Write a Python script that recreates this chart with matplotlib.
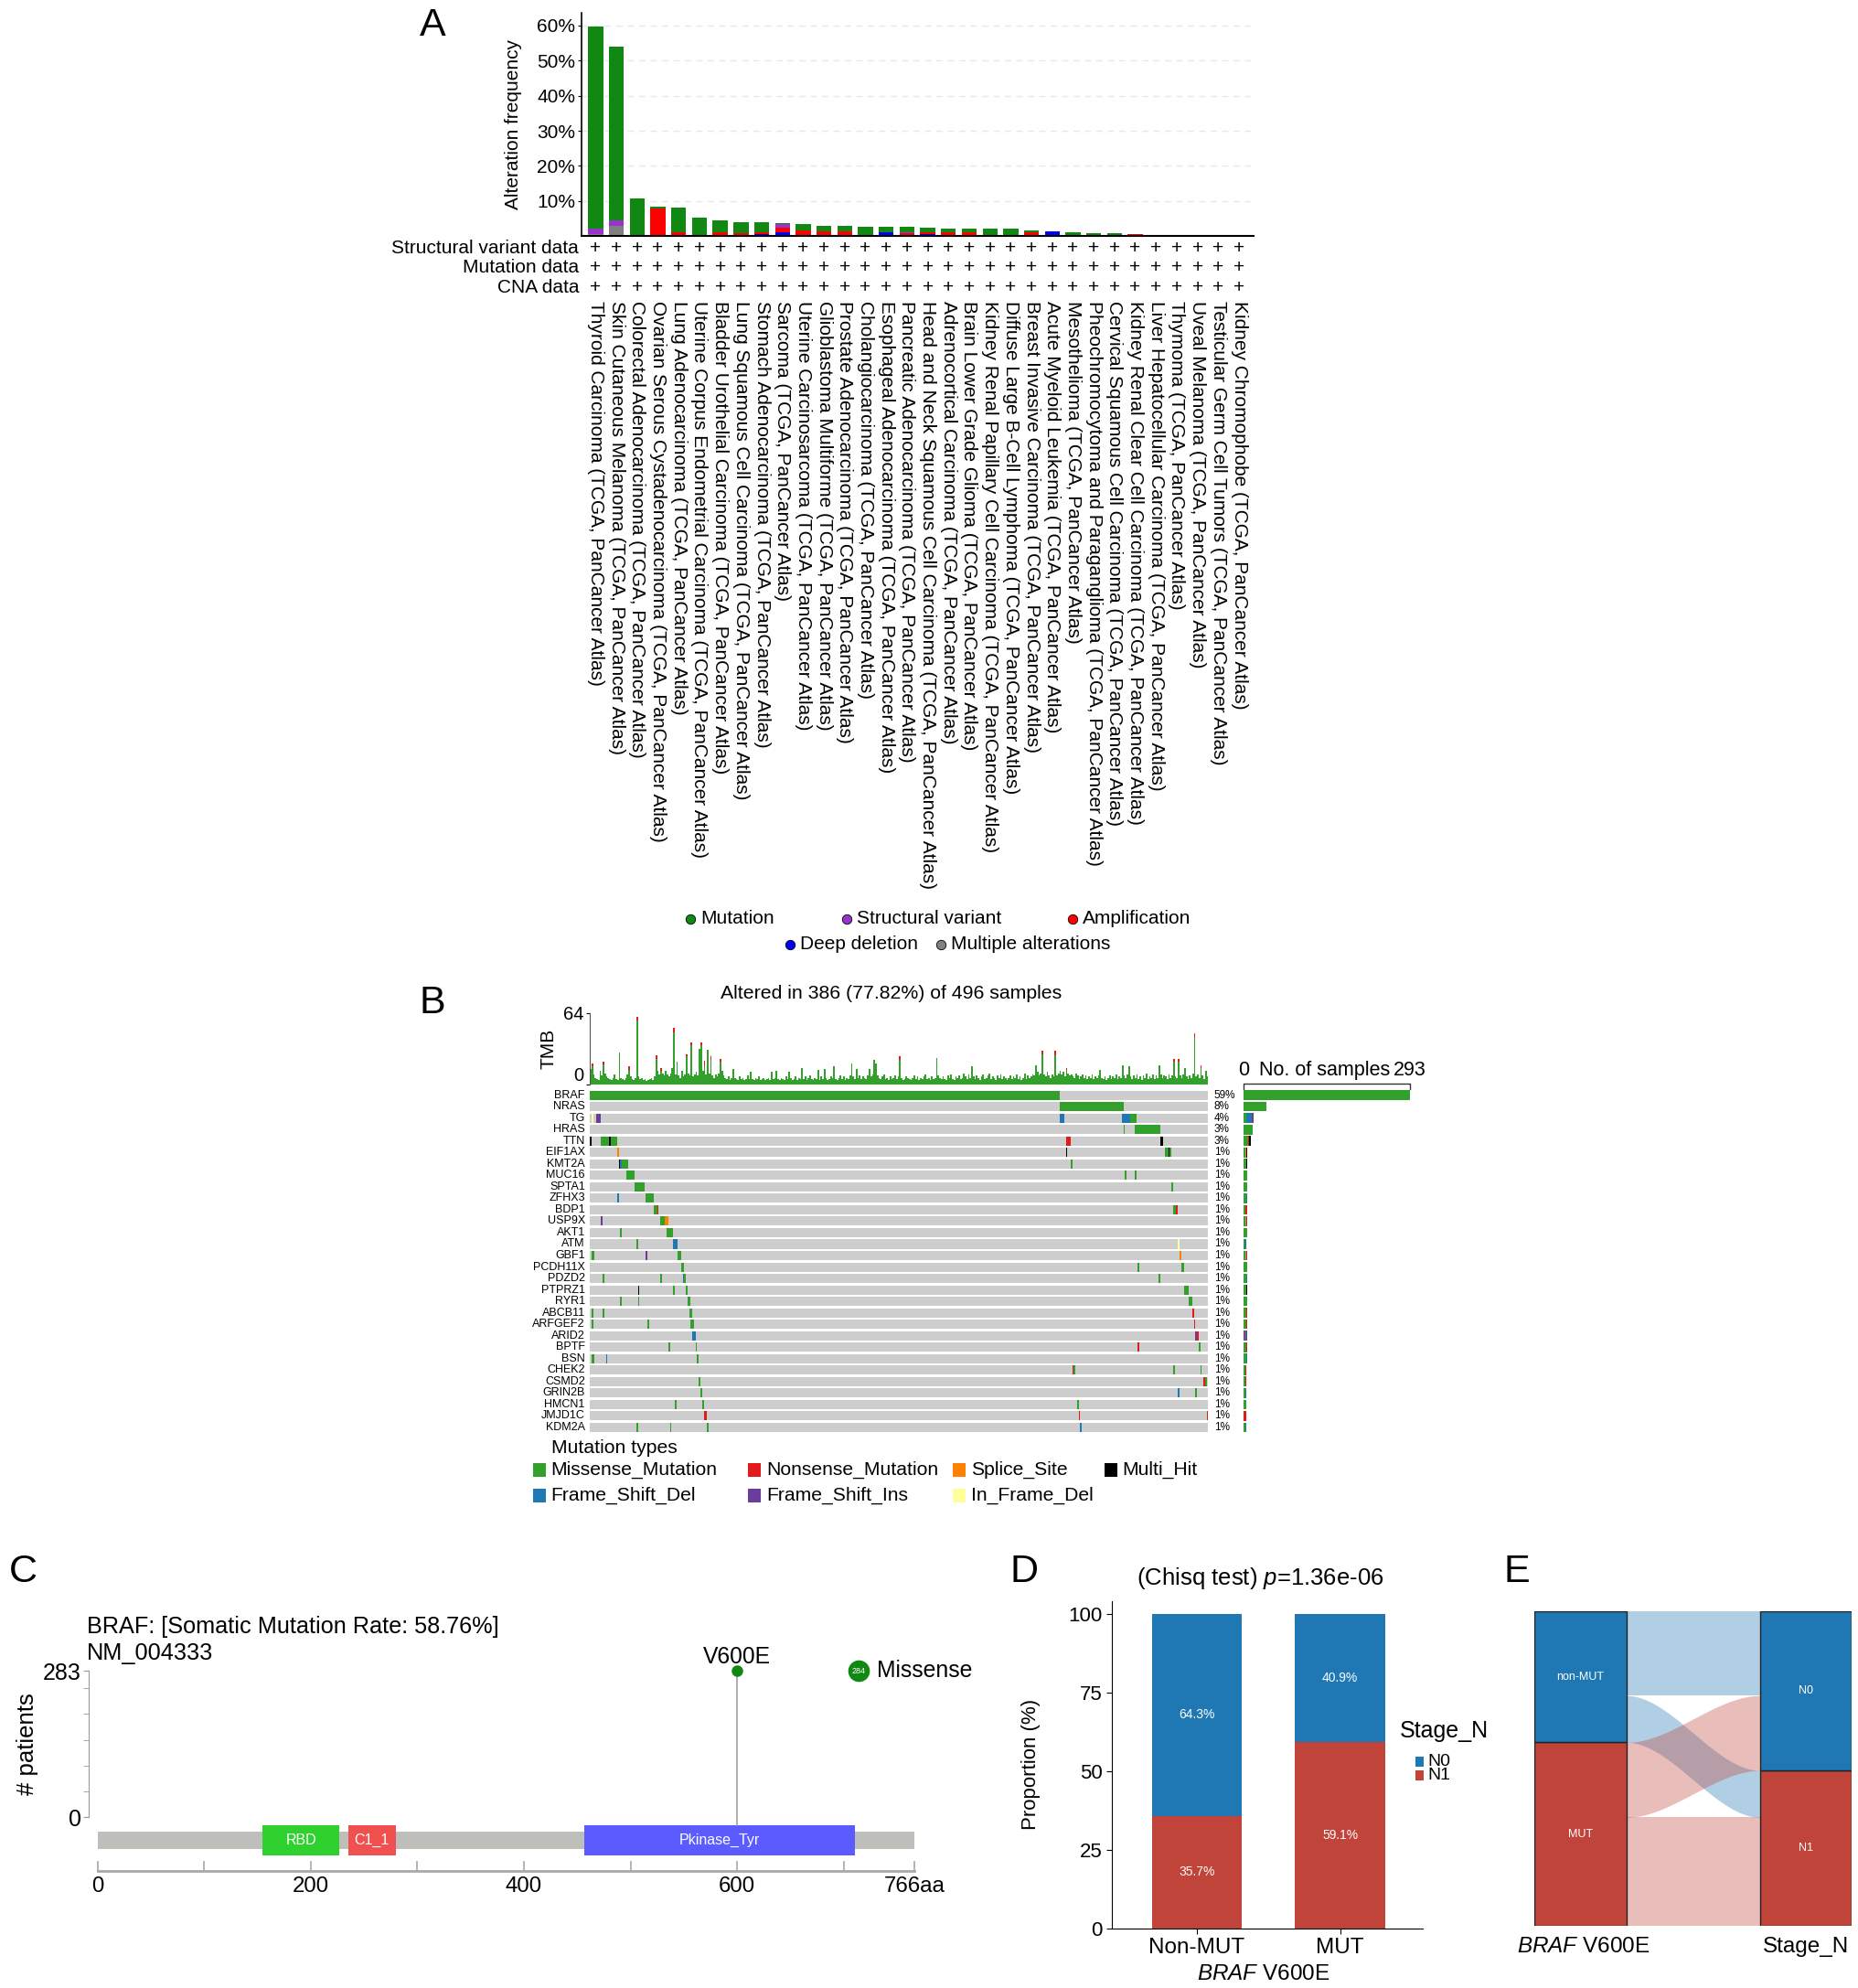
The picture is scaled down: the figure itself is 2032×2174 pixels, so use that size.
import numpy as np
import matplotlib
matplotlib.use('Agg')
import matplotlib.pyplot as plt
from matplotlib.patches import Rectangle
from matplotlib.lines import Line2D

plt.rcParams['font.family'] = ['Liberation Sans', 'DejaVu Sans']
plt.rcParams['mathtext.fontset'] = 'custom'
plt.rcParams['mathtext.rm'] = 'Liberation Sans'
plt.rcParams['mathtext.it'] = 'Liberation Sans:italic'

# ---------------- panel A: alteration frequency per cancer type (%)
cancer_types = ['Thyroid Carcinoma', 'Skin Cutaneous Melanoma', 'Colorectal Adenocarcinoma',
                'Ovarian Serous Cystadenocarcinoma', 'Lung Adenocarcinoma',
                'Uterine Corpus Endometrial Carcinoma', 'Bladder Urothelial Carcinoma',
                'Lung Squamous Cell Carcinoma', 'Stomach Adenocarcinoma', 'Sarcoma',
                'Uterine Carcinosarcoma', 'Glioblastoma Multiforme', 'Prostate Adenocarcinoma',
                'Cholangiocarcinoma', 'Esophageal Adenocarcinoma', 'Pancreatic Adenocarcinoma',
                'Head and Neck Squamous Cell Carcinoma', 'Adrenocortical Carcinoma',
                'Brain Lower Grade Glioma', 'Kidney Renal Papillary Cell Carcinoma',
                'Diffuse Large B-Cell Lymphoma', 'Breast Invasive Carcinoma',
                'Acute Myeloid Leukemia', 'Mesothelioma', 'Pheochromocytoma and Paraganglioma',
                'Cervical Squamous Cell Carcinoma', 'Kidney Renal Clear Cell Carcinoma',
                'Liver Hepatocellular Carcinoma', 'Thymoma', 'Uveal Melanoma',
                'Testicular Germ Cell Tumors', 'Kidney Chromophobe']
mutation = [57.6, 49.3, 10.4, 0.4, 7.2, 4.8, 3.3, 3.2, 3.0, 0.3, 1.7, 1.5, 1.7, 2.6, 1.6, 1.5,
            1.3, 0.9, 1.0, 1.7, 2.1, 0.7, 0, 1.0, 0.6, 0.9, 0, 0, 0, 0, 0, 0]
struct_var = [1.6, 1.6, 0, 0, 0, 0, 0, 0, 0, 1.0, 0, 0, 0, 0, 0, 0.3,
              0, 0, 0, 0, 0, 0, 0, 0, 0, 0, 0, 0, 0, 0, 0, 0]
amplification = [0, 0, 0.3, 7.9, 1.0, 0.4, 1.2, 0.4, 0.5, 1.4, 1.7, 1.5, 1.3, 0, 0, 0.5,
                 0.7, 1.2, 1.1, 0.4, 0, 1.0, 0, 0, 0.3, 0, 0.6, 0.3, 0, 0, 0, 0]
deep_deletion = [0.3, 0, 0, 0, 0, 0, 0, 0.4, 0.5, 1.1, 0, 0, 0, 0, 1.0, 0.3,
                 0.5, 0, 0, 0, 0, 0, 1.4, 0, 0, 0, 0, 0, 0, 0, 0, 0]
multiple_alt = [0.2, 3.0, 0, 0, 0, 0, 0, 0, 0, 0, 0, 0, 0, 0, 0, 0,
                0, 0, 0, 0, 0, 0, 0, 0, 0, 0, 0, 0, 0, 0, 0, 0]
profile_rows = ['Structural variant data', 'Mutation data', 'CNA data']

# ---------------- panel B: oncoplot
n_samples = 386
tmb = [14, 19, 9, 6, 5, 4, 12, 8, 20, 10, 7, 6, 5, 4, 6, 9, 5, 4, 29, 6,
       5, 4, 6, 9, 16, 7, 5, 4, 6, 61, 7, 5, 6, 4, 5, 3, 4, 5, 6, 4,
       7, 26, 12, 9, 15, 10, 8, 12, 9, 7, 10, 15, 51, 9, 20, 8, 6, 12, 7, 9,
       27, 10, 8, 38, 7, 9, 11, 8, 32, 38, 12, 21, 9, 31, 10, 25, 8, 6, 9, 7,
       10, 23, 12, 8, 6, 5, 7, 4, 6, 14, 6, 5, 4, 7, 5, 6, 4, 5, 8, 5,
       11, 5, 4, 6, 5, 7, 4, 5, 6, 4, 5, 6, 4, 11, 5, 6, 12, 5, 4, 6,
       5, 4, 7, 5, 11, 6, 4, 5, 7, 4, 6, 5, 15, 5, 7, 4, 6, 8, 5, 4,
       6, 5, 13, 4, 7, 5, 14, 6, 4, 5, 7, 6, 16, 5, 4, 6, 8, 5, 7, 4,
       6, 5, 8, 19, 7, 5, 14, 6, 8, 5, 7, 6, 5, 8, 14, 7, 9, 22, 19, 8,
       6, 5, 7, 9, 5, 6, 4, 7, 5, 6, 8, 5, 7, 25, 6, 4, 5, 7, 6, 5,
       4, 6, 8, 5, 7, 4, 6, 5, 7, 9, 5, 6, 4, 7, 5, 6, 24, 8, 6, 5,
       7, 5, 4, 8, 6, 9, 5, 4, 7, 6, 8, 5, 6, 10, 7, 5, 9, 6, 16, 7,
       5, 8, 6, 4, 7, 9, 5, 6, 8, 10, 5, 7, 6, 4, 8, 6, 9, 5, 7, 6,
       4, 6, 8, 5, 7, 6, 9, 5, 7, 4, 6, 10, 5, 8, 6, 7, 9, 8, 17, 11,
       8, 10, 30, 9, 7, 11, 8, 6, 9, 7, 30, 8, 10, 12, 9, 11, 7, 15, 10, 8,
       9, 7, 6, 10, 8, 5, 7, 9, 6, 8, 5, 7, 6, 9, 5, 7, 6, 8, 13, 6,
       5, 7, 4, 6, 8, 5, 7, 6, 9, 5, 7, 6, 17, 8, 6, 9, 16, 7, 5, 8,
       6, 9, 5, 7, 4, 8, 6, 10, 5, 7, 6, 9, 5, 8, 6, 17, 9, 6, 8, 7,
       5, 9, 6, 8, 23, 7, 6, 23, 8, 6, 9, 15, 7, 5, 8, 6, 10, 46, 7, 9,
       6, 17, 8, 5, 12, 7]
tmb_nonsense = {1: 3, 8: 2, 24: 3, 29: 4, 41: 3, 44: 3, 52: 4, 60: 2, 63: 3, 69: 3, 71: 5,
                75: 3, 81: 3, 193: 3, 282: 3, 290: 4, 297: 2, 364: 3, 367: 3, 377: 4, 381: 2}

onco_genes = ['BRAF', 'NRAS', 'TG', 'HRAS', 'TTN', 'EIF1AX', 'KMT2A', 'MUC16', 'SPTA1', 'ZFHX3',
              'BDP1', 'USP9X', 'AKT1', 'ATM', 'GBF1', 'PCDH11X', 'PDZD2', 'PTPRZ1', 'RYR1',
              'ABCB11', 'ARFGEF2', 'ARID2', 'BPTF', 'BSN', 'CHEK2', 'CSMD2', 'GRIN2B', 'HMCN1',
              'JMJD1C', 'KDM2A']
onco_pct = ['59%', '8%', '4%', '3%', '3%'] + ['1%'] * 25
gene_counts = [293, 40, 20, 16, 14, 7, 7, 7, 7, 6, 6, 6, 6, 6, 6, 6, 6, 6, 6, 6,
               6, 6, 6, 6, 5, 5, 5, 5, 5, 5]
# (first sample column, number of columns, variant class)
onco_hits = {
    'BRAF': [(0, 293, 'M')],
    'NRAS': [(293, 40, 'M')],
    'TG': [(1, 1, 'F'), (4, 3, 'I'), (293, 3, 'D'), (332, 5, 'D'), (337, 4, 'M')],
    'HRAS': [(333, 1, 'M'), (340, 16, 'M')],
    'TTN': [(0, 1, 'H'), (7, 10, 'M'), (12, 1, 'H'), (297, 3, 'N'), (356, 2, 'H')],
    'EIF1AX': [(17, 1, 'S'), (297, 1, 'H'), (359, 4, 'M'), (361, 1, 'H')],
    'KMT2A': [(18, 1, 'H'), (19, 1, 'D'), (20, 4, 'M'), (300, 1, 'M')],
    'MUC16': [(23, 5, 'M'), (334, 1, 'M'), (340, 1, 'M')],
    'SPTA1': [(28, 6, 'M'), (363, 1, 'M')],
    'ZFHX3': [(17, 1, 'D'), (35, 5, 'M')],
    'BDP1': [(40, 2, 'M'), (42, 1, 'N'), (364, 2, 'M'), (366, 1, 'N')],
    'USP9X': [(7, 1, 'I'), (44, 3, 'M'), (47, 2, 'S')],
    'AKT1': [(19, 1, 'M'), (48, 4, 'M')],
    'ATM': [(29, 1, 'M'), (52, 3, 'D'), (367, 1, 'F')],
    'GBF1': [(1, 2, 'M'), (35, 1, 'I'), (55, 2, 'M'), (368, 1, 'S')],
    'PCDH11X': [(57, 2, 'M'), (342, 1, 'M'), (369, 2, 'M')],
    'PDZD2': [(8, 1, 'M'), (44, 1, 'M'), (58, 1, 'D'), (59, 1, 'M'), (355, 1, 'M')],
    'PTPRZ1': [(30, 1, 'H'), (52, 1, 'M'), (60, 1, 'M'), (371, 3, 'M')],
    'RYR1': [(19, 1, 'M'), (30, 1, 'M'), (61, 2, 'M'), (374, 2, 'M')],
    'ABCB11': [(1, 1, 'M'), (8, 1, 'M'), (62, 2, 'M'), (376, 1, 'N')],
    'ARFGEF2': [(1, 1, 'M'), (36, 1, 'M'), (63, 2, 'M'), (377, 1, 'N')],
    'ARID2': [(64, 2, 'D'), (378, 1, 'I'), (379, 1, 'N')],
    'BPTF': [(49, 1, 'M'), (66, 1, 'M'), (342, 1, 'N'), (380, 1, 'M')],
    'BSN': [(1, 2, 'M'), (10, 1, 'D'), (67, 1, 'M')],
    'CHEK2': [(301, 1, 'N'), (302, 1, 'M'), (364, 1, 'M'), (381, 1, 'M')],
    'CSMD2': [(68, 1, 'M'), (383, 1, 'N'), (384, 1, 'M')],
    'GRIN2B': [(69, 1, 'M'), (367, 1, 'D'), (378, 1, 'M')],
    'HMCN1': [(53, 1, 'M'), (70, 1, 'M'), (304, 1, 'M')],
    'JMJD1C': [(71, 2, 'N'), (305, 1, 'N'), (385, 1, 'N')],
    'KDM2A': [(29, 1, 'M'), (50, 1, 'M'), (73, 1, 'M'), (306, 1, 'D')],
}
vc_codes = ['M', 'N', 'S', 'H', 'D', 'I', 'F']
vc_names = ['Missense_Mutation', 'Nonsense_Mutation', 'Splice_Site', 'Multi_Hit',
            'Frame_Shift_Del', 'Frame_Shift_Ins', 'In_Frame_Del']
vc_colors = ['#33A02C', '#E31A1C', '#FF7F00', '#000000', '#1F78B4', '#6A3D9A', '#FFFF99']

# ---------------- panel C: lollipop
protein_len = 766
domain_names = ['RBD', 'C1_1', 'Pkinase_Tyr']
domain_start = [155, 235, 457]
domain_end = [227, 280, 710]
domain_colors = ['#2FD12F', '#F05050', '#5B5BFF']
hotspot_pos = 600
hotspot_label = 'V600E'
hotspot_count = 284

# ---------------- panels D/E: BRAF V600E vs Stage_N (patients)
braf_groups = ['Non-MUT', 'MUT']
stage_levels = ['N0', 'N1']
stage_n0 = [126, 112]
stage_n1 = [70, 162]

BLUE = '#1F78B4'
RED = '#C1443A'

fig = plt.figure(figsize=(20.32, 21.74), dpi=100)

# positions are laid out on a 1460 x 1562 page grid
GW, GH = 1460.0, 1562.0


def box(x0, y0, x1, y1):
    return [x0 / GW, 1 - y1 / GH, (x1 - x0) / GW, (y1 - y0) / GH]


def put(x, y, s, **kw):
    return fig.text(x / GW, 1 - y / GH, s, **kw)


def square(x, y, w, h, color):
    fig.add_artist(Rectangle((x / GW, 1 - (y + h / 2) / GH), w / GW, h / GH,
                             transform=fig.transFigure, color=color, lw=0))


def dot(x, y, color):
    fig.add_artist(Line2D([x / GW], [1 - y / GH], marker='o', ms=7.5, mfc=color, mec='black',
                          mew=0.6, lw=0, transform=fig.transFigure))


# ================= A
axA = fig.add_axes(box(457, 10, 985, 185.6))
xa = np.arange(len(cancer_types))
base = np.zeros(len(xa))
for vals, col in [(deep_deletion, '#0000FF'), (multiple_alt, '#808080'),
                  (amplification, '#FF0000'), (struct_var, '#9933CC'), (mutation, '#118811')]:
    axA.bar(xa, vals, 0.72, bottom=base, color=col, lw=0)
    base = base + np.array(vals)
axA.set_xlim(-0.68, len(xa) - 0.3)
axA.set_ylim(0, 63.6)
axA.set_yticks([10, 20, 30, 40, 50, 60])
axA.set_yticklabels(['%d%%' % v for v in [10, 20, 30, 40, 50, 60]], fontsize=15)
axA.yaxis.grid(True, ls=(0, (5, 4)), color='#e8e8e8', lw=1)
axA.set_axisbelow(True)
for s in ['top', 'right']:
    axA.spines[s].set_visible(False)
axA.spines['left'].set_linewidth(1.2)
axA.spines['bottom'].set_linewidth(1.5)
axA.tick_params(axis='y', length=3, pad=2)
axA.set_ylabel('Alteration frequency', fontsize=15)
axA.yaxis.set_label_coords(-0.088, 0.5)
axA.set_xticks(xa)
axA.set_xticklabels([c + ' (TCGA, PanCancer Atlas)' for c in cancer_types],
                    rotation=270, fontsize=15, va='top', ha='center')
axA.tick_params(axis='x', length=0, pad=51)
for r, name in enumerate(profile_rows):
    yf = (185.6 - (195 + 15.5 * r)) / 175.6
    axA.text(-0.004, yf, name, transform=axA.transAxes, ha='right', va='center', fontsize=15)
    for i in xa:
        axA.text(i, yf, '+', transform=axA.get_xaxis_transform(), ha='center', va='center',
                 fontsize=15)

put(340, 20, 'A', fontsize=31, ha='center', va='center')
for x, y, lab, col in [(542.5, 722, 'Mutation', '#118811'), (665, 722, 'Structural variant', '#9933CC'),
                       (842.5, 722, 'Amplification', '#FF0000'), (621, 742, 'Deep deletion', '#0000FF'),
                       (739.5, 742, 'Multiple alterations', '#808080')]:
    dot(x, y, col)
    put(x + 8, y, lab, fontsize=15, va='center', ha='left')

# ================= B
put(340, 788, 'B', fontsize=31, ha='center', va='center')
put(700, 781, 'Altered in 386 (77.82%) of 496 samples', fontsize=15.3, ha='center', va='center')

axT = fig.add_axes(box(463.5, 796, 949.5, 852))
xs = np.arange(n_samples)
red_part = np.array([tmb_nonsense.get(i, 0) for i in xs])
tmb_arr = np.array(tmb)
axT.bar(xs, tmb_arr - red_part, 1.0, color='#33A02C', lw=0)
axT.bar(xs, red_part, 1.0, bottom=tmb_arr - red_part, color='#E31A1C', lw=0)
axT.set_xlim(-0.5, n_samples - 0.5)
axT.set_ylim(0, 64)
axT.set_yticks([0, 64])
axT.tick_params(axis='y', labelsize=14.5, length=3, pad=2)
axT.get_yticklabels()[0].set_va('bottom')
axT.set_xticks([])
for s in ['top', 'right', 'bottom']:
    axT.spines[s].set_visible(False)
axT.spines['left'].set_color('#555555')
axT.set_ylabel('TMB', fontsize=15)
axT.yaxis.set_label_coords(-0.053, 0.5)

axO = fig.add_axes(box(463.5, 856, 949.5, 1126))
ng = len(onco_genes)
for gi, g in enumerate(onco_genes):
    axO.barh(gi, n_samples, left=-0.5, height=0.8, color='#CDCDCD', lw=0)
    for c0, w, t in onco_hits[g]:
        axO.barh(gi, w, left=c0 - 0.5, height=0.8, color=vc_colors[vc_codes.index(t)], lw=0)
    axO.text(-3.5, gi, g, ha='right', va='center', fontsize=9)
    axO.text(n_samples + 3, gi, onco_pct[gi], ha='left', va='center', fontsize=8.5)
axO.set_xlim(-0.5, n_samples - 0.5)
axO.set_ylim(ng - 0.5, -0.5)
axO.axis('off')

axR = fig.add_axes(box(977, 856, 1108, 1126))
for gi, g in enumerate(onco_genes):
    sizes = np.array([sum(w for _, w, t in onco_hits[g] if t == code) for code in vc_codes], float)
    seg = sizes / sizes.sum() * gene_counts[gi]
    left = 0
    for k, code in enumerate(vc_codes):
        if seg[k] > 0:
            axR.barh(gi, seg[k], left=left, height=0.85, color=vc_colors[k], lw=0)
            left += seg[k]
axR.set_xlim(0, max(gene_counts))
axR.set_ylim(ng - 0.5, -0.5)
axR.axis('off')
axR.plot([0, 0, max(gene_counts), max(gene_counts)], [-0.55, -1.0, -1.0, -0.55],
         color='#333333', lw=1, clip_on=False)
axR.text(0, -2.2, '0', ha='center', va='center', fontsize=15.5)
axR.text(143, -2.2, 'No. of samples', ha='center', va='center', fontsize=15.5)
axR.text(max(gene_counts), -2.2, str(max(gene_counts)), ha='center', va='center', fontsize=15.5)

put(433, 1138, 'Mutation types', fontsize=15.2, ha='left', va='center')
leg_x = [419, 588, 749, 868]
for k, name in enumerate(vc_names):
    col_i, row_i = k % 4, k // 4
    x = leg_x[col_i]
    y = 1155 + 20 * row_i
    square(x, y, 10, 11, vc_colors[k])
    put(x + 14, y, name, fontsize=15.2, ha='left', va='center')

# ================= C
put(18, 1235, 'C', fontsize=31, ha='center', va='center')
put(68, 1278, 'BRAF: [Somatic Mutation Rate: 58.76%]', fontsize=18.2, ha='left', va='center')
put(68, 1299, 'NM_004333', fontsize=18.2, ha='left', va='center')

axC = fig.add_axes(box(64.8, 1280, 723.4, 1500))
axC.set_xlim(-14, 772)
axC.set_ylim(-177.2, 364.2)
axC.add_patch(Rectangle((0, -60.3), protein_len, 33.2, color='#BEBEBA', lw=0))
for name, d0, d1, col in zip(domain_names, domain_start, domain_end, domain_colors):
    axC.add_patch(Rectangle((d0, -72.6), d1 - d0, 57.8, color=col, lw=0))
    axC.text((d0 + d1) / 2, -43.7, name, color='white', fontsize=11.5, ha='center', va='center')
axC.plot([hotspot_pos, hotspot_pos], [-14.8, hotspot_count], color='#A0A0A0', lw=1.2, zorder=1)
axC.plot([hotspot_pos], [hotspot_count], 'o', ms=8, color='#118811', zorder=3)
axC.text(hotspot_pos, 311, hotspot_label, fontsize=17.7, ha='center', va='center')
axC.plot([714], [283], 'o', ms=16, color='#118811', clip_on=False)
axC.text(714, 283, str(hotspot_count), color='white', fontsize=6.5, ha='center', va='center')
axC.text(731, 283, 'Missense', fontsize=17.8, ha='left', va='center')
# y axis
axC.spines['left'].set_position(('data', -8))
axC.spines['left'].set_bounds(0, 283)
axC.spines['left'].set_color('#999999')
axC.set_yticks([0, 283])
axC.set_yticks([50, 100, 150, 200, 250], minor=True)
axC.tick_params(axis='y', which='both', colors='#999999', labelcolor='black', labelsize=18,
                length=4, pad=2)
for s in ['top', 'right', 'bottom']:
    axC.spines[s].set_visible(False)
axC.set_xticks([])
axC.set_ylabel('# patients', fontsize=18.5)
axC.yaxis.set_label_coords((30 - 64.8) / 658.6, (1500 - 1370) / 220)
# protein axis
axis_y = -103.3
axC.plot([0, protein_len], [axis_y, axis_y], color='#A8A8A8', lw=2)
for t in list(range(0, 701, 100)) + [protein_len]:
    axC.plot([t, t], [axis_y, axis_y + 17], color='#A8A8A8', lw=1.2)
for t in [0, 200, 400, 600]:
    axC.text(t, -133, str(t), fontsize=17.3, ha='center', va='center')
axC.text(protein_len, -133, '%daa' % protein_len, fontsize=17.3, ha='center', va='center')

# ================= D
put(805, 1235, 'D', fontsize=31, ha='center', va='center')
put(990, 1240, '(Chisq test) $p$=1.36e-06', fontsize=18.5, ha='center', va='center')
axD = fig.add_axes(box(874, 1258, 1118, 1515))
n0 = np.array(stage_n0, float)
n1 = np.array(stage_n1, float)
p0 = n0 / (n0 + n1) * 100
p1 = n1 / (n0 + n1) * 100
xd = np.arange(len(braf_groups))
axD.bar(xd, p1, 0.63, color=RED, lw=0)
axD.bar(xd, p0, 0.63, bottom=p1, color=BLUE, lw=0)
for i in xd:
    axD.text(i, p1[i] / 2, '%.1f%%' % p1[i], color='white', fontsize=10, ha='center', va='center')
    axD.text(i, p1[i] + p0[i] / 2, '%.1f%%' % p0[i], color='white', fontsize=10,
             ha='center', va='center')
axD.set_xlim(-0.591, 1.578)
axD.set_ylim(0, 104.05)
axD.set_yticks([0, 25, 50, 75, 100])
axD.set_xticks(xd)
axD.set_xticklabels(braf_groups)
axD.tick_params(axis='y', labelsize=16, length=4)
axD.tick_params(axis='x', labelsize=17.5, length=4)
for s in ['top', 'right']:
    axD.spines[s].set_visible(False)
axD.set_ylabel('Proportion (%)', fontsize=16)
axD.yaxis.set_label_coords((818 - 874) / 244, 0.5)
put(993, 1551, '$BRAF$ V600E', fontsize=17.5, ha='center', va='center')
put(1100, 1360, 'Stage_N', fontsize=18, ha='left', va='center')
for k, (lab, col) in enumerate(zip(stage_levels, [BLUE, RED])):
    y = 1384 + 11 * k
    square(1112, y, 7, 8, col)
    put(1122, y, lab, fontsize=14, ha='left', va='center')

# ================= E
put(1192, 1235, 'E', fontsize=31, ha='center', va='center')
axE = fig.add_axes(box(1206, 1266, 1455, 1513))
hw = 36 / 177.0
total = n0.sum() + n1.sum()
axE.set_xlim(1 - hw, 2 + hw)
axE.set_ylim(0, total)
axE.axis('off')
cnt = np.array([[n0[0], n1[0]], [n0[1], n1[1]]])  # rows: group, cols: stage
flow_col = [BLUE, RED]
left_pos = {}
top = total
for g in range(2):
    for s in range(2):
        left_pos[(g, s)] = (top - cnt[g, s], top)
        top -= cnt[g, s]
right_pos = {}
top = total
for s in range(2):
    for g in range(2):
        right_pos[(g, s)] = (top - cnt[g, s], top)
        top -= cnt[g, s]
tt = np.linspace(0, 1, 80)
ease = tt * tt * (3 - 2 * tt)
fx = (1 + hw) + (1 - 2 * hw) * tt
for g in range(2):
    for s in range(2):
        l0, l1 = left_pos[(g, s)]
        r0, r1 = right_pos[(g, s)]
        axE.fill_between(fx, l0 + (r0 - l0) * ease, l1 + (r1 - l1) * ease,
                         color=flow_col[g], alpha=0.35, lw=0)
grp_tot = cnt.sum(axis=1)
stg_tot = cnt.sum(axis=0)
# left strata: non-MUT on top
axE.bar(1, grp_tot[1], 2 * hw, bottom=0, color=RED, edgecolor='#222222', lw=1)
axE.bar(1, grp_tot[0], 2 * hw, bottom=grp_tot[1], color=BLUE, edgecolor='#222222', lw=1)
axE.text(1, grp_tot[1] + grp_tot[0] / 2, 'non-MUT', color='white', fontsize=9, ha='center', va='center')
axE.text(1, grp_tot[1] / 2, 'MUT', color='white', fontsize=9, ha='center', va='center')
axE.bar(2, stg_tot[1], 2 * hw, bottom=0, color=RED, edgecolor='#222222', lw=1)
axE.bar(2, stg_tot[0], 2 * hw, bottom=stg_tot[1], color=BLUE, edgecolor='#222222', lw=1)
axE.text(2, stg_tot[1] + stg_tot[0] / 2, stage_levels[0], color='white', fontsize=9,
         ha='center', va='center')
axE.text(2, stg_tot[1] / 2, stage_levels[1], color='white', fontsize=9, ha='center', va='center')
put(1244, 1530, '$BRAF$ V600E', fontsize=17.5, ha='center', va='center')
put(1419, 1530, 'Stage_N', fontsize=17.5, ha='center', va='center')

fig.savefig('out.png', dpi=100)
